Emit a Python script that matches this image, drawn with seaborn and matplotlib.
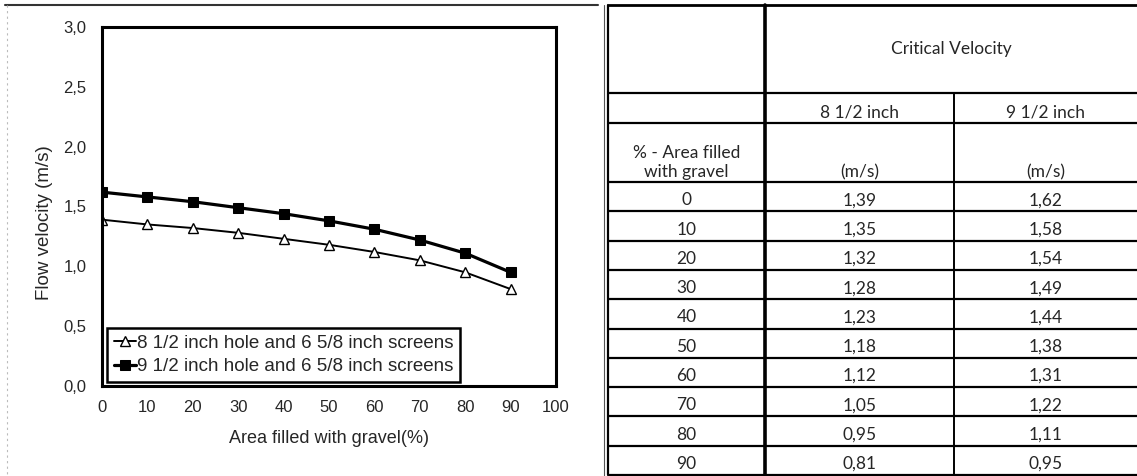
import pandas as pd
import matplotlib
matplotlib.use('Agg')
import matplotlib.pyplot as plt
from matplotlib.ticker import FuncFormatter
import seaborn as sns

area = [0, 10, 20, 30, 40, 50, 60, 70, 80, 90]
v_8half = [1.39, 1.35, 1.32, 1.28, 1.23, 1.18, 1.12, 1.05, 0.95, 0.81]
v_9half = [1.62, 1.58, 1.54, 1.49, 1.44, 1.38, 1.31, 1.22, 1.11, 0.95]
series_names = ["8 1/2 inch hole and 6 5/8 inch screens",
                "9 1/2 inch hole and 6 5/8 inch screens"]
x_ticks = [0, 10, 20, 30, 40, 50, 60, 70, 80, 90, 100]
y_ticks = [0.0, 0.5, 1.0, 1.5, 2.0, 2.5, 3.0]
table_title = "Critical Velocity"
col_heads = ["8 1/2 inch", "9 1/2 inch"]
row_head = "% - Area filled\nwith gravel"
unit = "(m/s)"

df = pd.DataFrame({"area": area * 2,
                   "v": v_8half + v_9half,
                   "series": [series_names[0]] * len(area) + [series_names[1]] * len(area)})

sns.set_style("white")
plt.rcParams['font.family'] = ['Liberation Sans', 'DejaVu Sans']

W, H = 1137, 476
fig = plt.figure(figsize=(W / 100, H / 100), dpi=100)

# chart
ax = fig.add_axes([102 / W, 1 - 386 / H, 454 / W, 359 / H])
sns.lineplot(data=df[df.series == series_names[0]], x="area", y="v", ax=ax,
             color="black", linewidth=1.4, marker="^", markersize=7,
             markerfacecolor="white", markeredgecolor="black", markeredgewidth=1.0,
             label=series_names[0])
sns.lineplot(data=df[df.series == series_names[1]], x="area", y="v", ax=ax,
             color="black", linewidth=2.3, marker="s", markersize=7,
             markerfacecolor="black", markeredgecolor="black",
             label=series_names[1])

ax.set_xlim(0, 100)
ax.set_ylim(0, 3.0)
ax.set_xticks(x_ticks)
ax.set_yticks(y_ticks)
ax.yaxis.set_major_formatter(FuncFormatter(lambda v, p: f"{v:.1f}".replace(".", ",")))
ax.tick_params(axis="both", labelsize=12, length=2, width=0.8, color="black", direction="out")
ax.tick_params(axis="x", pad=8)
ax.tick_params(axis="y", pad=9)
for s in ax.spines.values():
    s.set_color("black")
    s.set_linewidth(2.2)
ax.set_xlabel("Area filled with gravel(%)", fontsize=13, labelpad=11)
ax.set_ylabel("Flow velocity (m/s)", fontsize=13.5)
ax.yaxis.set_label_coords(-0.108, 0.454)

leg = ax.legend(loc="lower left", bbox_to_anchor=(0.011, 0.011), borderaxespad=0,
                fontsize=13.5, frameon=True, fancybox=False, framealpha=1,
                handlelength=1.2, handletextpad=0.05, borderpad=0.35, labelspacing=0.35)
leg.get_frame().set_edgecolor("black")
leg.get_frame().set_linewidth(1.8)

# overlay in pixel coords for frame + table
ov = fig.add_axes([0, 0, 1, 1])
ov.set_xlim(0, W)
ov.set_ylim(H, 0)
ov.axis("off")

# scanned picture frame
ov.plot([5, 598], [5, 5], color="#333333", lw=1.5)
ov.plot([7, 7], [5, 476], color="#bbbbbb", lw=0.8, ls=(0, (2, 3)))
ov.plot([604, 604], [5, 476], color="#555555", lw=0.8)

# table grid
tfont = ['Lato', 'DejaVu Sans']
tsize = 12.5
left, c1, c2, right = 608, 765, 954, W
row_y = [5, 93, 123, 182] + [182 + 29.3 * (i + 1) for i in range(len(area))]
for i, y in enumerate(row_y):
    ov.plot([left, right], [y, y], color="black", lw=1.6 if i else 2.0, solid_capstyle="butt")
ov.plot([left, left], [row_y[0], row_y[-1]], color="black", lw=1.6)
ov.plot([c1, c1], [row_y[0], row_y[-1]], color="black", lw=2.6)
ov.plot([c2, c2], [row_y[1], row_y[-1]], color="black", lw=1.4)

xm0 = (left + c1) / 2
xm1 = (c1 + c2) / 2
xm2 = (c2 + right) / 2
ov.text((c1 + right) / 2, (row_y[0] + row_y[1]) / 2, table_title, ha="center", va="center",
        fontsize=tsize, family=tfont)
for xm, t in zip([xm1, xm2], col_heads):
    ov.text(xm, row_y[2] - 2, t, ha="center", va="bottom", fontsize=tsize, family=tfont)
ov.text(xm0, row_y[3] - 2, row_head, ha="center", va="bottom", fontsize=tsize,
        family=tfont, linespacing=1.25)
for xm in [xm1, xm2]:
    ov.text(xm, row_y[3] - 2, unit, ha="center", va="bottom", fontsize=tsize, family=tfont)
for i, a in enumerate(area):
    yb = row_y[4 + i] - 3
    ov.text(xm0, yb, str(a), ha="center", va="bottom", fontsize=tsize, family=tfont)
    ov.text(xm1, yb, f"{v_8half[i]:.2f}".replace(".", ","), ha="center", va="bottom",
            fontsize=tsize, family=tfont)
    ov.text(xm2, yb, f"{v_9half[i]:.2f}".replace(".", ","), ha="center", va="bottom",
            fontsize=tsize, family=tfont)

fig.savefig("out.png", dpi=100)
